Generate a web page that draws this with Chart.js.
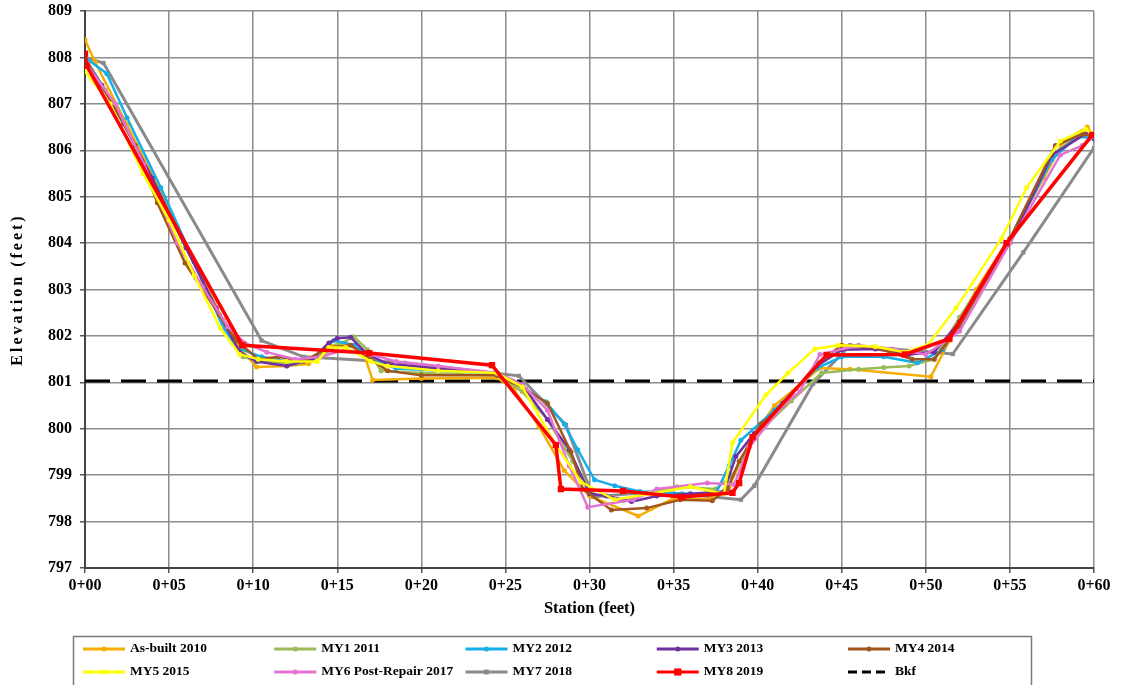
<!DOCTYPE html>
<html>
<head>
<meta charset="utf-8">
<script src="https://cdn.jsdelivr.net/npm/chart.js@4"></script>
<style>
html,body{margin:0;padding:0;background:#fff;}
#wrap{width:1123px;height:685px;position:relative;}
</style>
</head>
<body>
<div id="wrap"><canvas id="c" width="1123" height="685"></canvas></div>
<script>
// ---- Data (station in feet, elevation in feet) ----
const xTickLabels = ['0+00','0+05','0+10','0+15','0+20','0+25','0+30','0+35','0+40','0+45','0+50','0+55','0+60'];
const yMin = 797, yMax = 809;

const asBuiltSta  = [0,0.6,2.5,4.5,6.5,8.2,9.3,10.2,12,13.3,14.5,15.5,16.6,17.1,20,24.5,25.5,27,28.5,30,32.9,35,37.2,38.3,39.5,41,43.7,45.5,50.3,51.4,53,55,57,58.2,59.6,60];
const asBuiltElev = [808.38,807.9,806.55,805.1,803.6,802.35,801.7,801.33,801.35,801.4,801.78,801.85,801.6,801.05,801.08,801.1,800.85,800.05,799.1,798.55,798.12,798.5,798.48,798.75,799.7,800.5,801.31,801.28,801.12,801.9,803.0,804.1,805.4,806.2,806.5,806.3];

const my1Sta  = [0,1.2,3,5,7,8.5,9.4,10.3,12.5,14,15,16,16.8,17.6,20,24.5,26,27.5,29,30.2,32,34,35.2,37.5,38.5,40,42,43.8,46,47.5,49,50.5,52,55,57.5,59.3,60];
const my1Elev = [808.0,807.3,806.1,804.6,803.2,802.1,801.55,801.45,801.4,801.55,801.8,801.98,801.7,801.25,801.2,801.15,800.8,800.2,799.3,798.6,798.45,798.65,798.75,798.7,799.0,799.9,800.6,801.2,801.28,801.32,801.35,801.5,802.4,804.05,805.9,806.4,806.3];

const my2Sta  = [0,1.3,2.5,4.5,6.5,8.2,9,10.5,12,13.5,14.8,16,17.3,18.5,21,24.5,26,27.4,28.5,29.3,30.3,31.5,33,35.5,37.5,38.3,39,41,43.5,45,47.5,49.5,51,53,55,57.5,59,60];
const my2Elev = [808.0,807.65,806.7,805.2,803.6,802.2,801.75,801.55,801.45,801.5,801.9,801.8,801.45,801.3,801.25,801.2,800.9,800.58,800.1,799.55,798.9,798.77,798.65,798.6,798.6,799.2,799.75,800.4,801.3,801.55,801.55,801.42,801.7,802.9,804.05,805.8,806.3,806.25];

const my3Sta  = [0,1,2.3,4,6,7.8,9.2,10.2,12,13.5,14.5,15,15.8,16.8,18,21,24.5,26,27.5,28.8,30,31,32.5,34,36,38,38.7,39.8,41.5,43.5,45,47,49,50.5,52,55,57.5,59.5,60];
const my3Elev = [807.95,807.4,806.57,805.4,803.9,802.6,801.65,801.45,801.35,801.5,801.85,801.95,801.97,801.6,801.4,801.3,801.2,800.95,800.2,799.55,798.6,798.55,798.43,798.55,798.6,798.65,799.4,799.9,800.55,801.35,801.7,801.72,801.6,801.65,802.3,804.0,805.9,806.35,806.25];

const my4Sta  = [0,1.5,3,4.3,5.95,8,9,10.3,11.5,13,14.5,15.8,17,18,20,24.5,26.2,27.5,28.9,29.6,31.3,33.4,35.4,37.3,38.2,38.9,40.2,41.5,43.5,45,47,49.2,50.5,52,55,57.7,59.3,60];
const my4Elev = [807.9,807.1,806.1,804.87,803.57,802.45,801.9,801.5,801.55,801.45,801.75,801.8,801.5,801.25,801.15,801.15,800.85,800.55,799.5,798.7,798.25,798.29,798.47,798.45,798.7,799.3,800.1,800.5,801.4,801.8,801.75,801.5,801.5,802.2,804.1,806.1,806.35,806.3];

const my5Sta  = [0,1.5,3.45,5,6.5,8.04,9.2,10.3,12,13.8,14.5,15.5,17,18,21,24.5,26,28,29.5,31.5,33.6,36,38,38.5,40.5,41.8,43.4,44.8,47,48.7,50.1,51.8,54.5,56,58,59.5,60];
const my5Elev = [807.7,807.0,805.5,804.5,803.3,802.17,801.6,801.5,801.45,801.45,801.75,801.75,801.45,801.35,801.25,801.2,800.9,799.65,798.85,798.47,798.6,798.75,798.6,799.7,800.73,801.2,801.72,801.8,801.77,801.65,801.8,802.6,804.1,805.2,806.2,806.45,806.35];

const my6Sta  = [0,1.8,3.5,5.5,7,8.5,9.5,10.8,12.5,14,15.5,17,18.5,21,24.5,26,27.5,28.8,29.9,32.6,34,37,38.6,39.5,41.5,42.5,43.7,46,48,50,52,55,58,59.3,60];
const my6Elev = [807.9,807.0,805.7,804.0,803.05,802.2,801.85,801.65,801.5,801.55,801.7,801.6,801.45,801.35,801.2,800.95,800.4,799.2,798.31,798.47,798.7,798.83,798.8,799.6,800.5,800.8,801.6,801.8,801.72,801.6,802.1,804.0,805.9,806.1,806.3];

const my7Sta  = [0,1.1,10.5,13,19,25.8,28.6,30.2,34,39,39.8,43.3,45.5,51.6,55.8,60];
const my7Elev = [808.0,807.88,801.9,801.55,801.42,801.14,800.08,798.53,798.65,798.47,798.77,800.97,801.8,801.61,803.8,806.05];

const my8Sta  = [0,0.1,9.35,16.9,24.2,28.0,28.3,32,35.5,38.5,38.9,39.7,44.1,48.75,51.4,54.8,59.9];
const my8Elev = [808.08,807.82,801.8,801.63,801.37,799.65,798.7,798.66,798.53,798.62,798.83,799.82,801.59,801.6,801.94,804.0,806.33];

const bkfSta  = [0,60];
const bkfElev = [801.03,801.03];

const seriesNames = ['As-built 2010','MY1 2011','MY2 2012','MY3 2013','MY4 2014','MY5 2015','MY6 Post-Repair 2017','MY7 2018','MY8 2019','Bkf'];

function pts(xs, ys){ return xs.map((x,i)=>({x:x, y:ys[i]})); }

const styles = [
  {c:'#F5AE00', w:2.5, r:2.5, ps:'circle', order:7},
  {c:'#9BBB59', w:2.5, r:2.5, ps:'circle', order:6},
  {c:'#14AFEA', w:2.5, r:2.5, ps:'circle', order:5},
  {c:'#7030A0', w:2.5, r:2.5, ps:'circle', order:4},
  {c:'#A2561E', w:2.5, r:2.5, ps:'circle', order:3},
  {c:'#FFFF00', w:2.5, r:2.5, ps:'circle', order:1},
  {c:'#E373D3', w:2.5, r:2.5, ps:'circle', order:2},
  {c:'#8A8A8A', w:3, r:3, ps:'rect', order:8},
  {c:'#FF0000', w:3.5, r:4.5, ps:'rect', order:0},
  {c:'#000000', w:3, r:0, ps:'line', order:9, dash:[25,11]}
];
const dataArrays = [
  [asBuiltSta,asBuiltElev],[my1Sta,my1Elev],[my2Sta,my2Elev],[my3Sta,my3Elev],[my4Sta,my4Elev],
  [my5Sta,my5Elev],[my6Sta,my6Elev],[my7Sta,my7Elev],[my8Sta,my8Elev],[bkfSta,bkfElev]
];

const datasets = dataArrays.map((d,i)=>({
  label: seriesNames[i],
  data: pts(d[0], d[1]),
  borderColor: styles[i].c,
  backgroundColor: styles[i].c,
  borderWidth: styles[i].w,
  pointRadius: styles[i].r,
  pointStyle: styles[i].ps,
  pointBorderWidth: 0,
  borderDash: styles[i].dash || [],
  order: styles[i].order,
  tension: 0,
  fill: false
}));

const FONT = '"Liberation Serif", "Times New Roman", serif';

const boxLegend = {
  id: 'boxLegend',
  afterDraw(chart){
    const ctx = chart.ctx;
    ctx.save();
    // y-axis title, letter-spaced
    ctx.fillStyle = '#000';
    ctx.font = 'bold 16px ' + FONT;
    try { ctx.letterSpacing = '3px'; } catch(e) {}
    ctx.textAlign = 'center';
    ctx.textBaseline = 'middle';
    ctx.translate(18, (chart.chartArea.top + chart.chartArea.bottom)/2);
    ctx.rotate(-Math.PI/2);
    ctx.fillText('Elevation (feet)', 0, 0);
    ctx.restore();

    ctx.save();
    try { ctx.letterSpacing = '0px'; } catch(e) {}
    ctx.strokeStyle = '#7a7a7a';
    ctx.lineWidth = 1.5;
    ctx.strokeRect(73.5, 636.5, 958, 60);
    ctx.font = 'bold 13.5px ' + FONT;
    ctx.textBaseline = 'middle';
    ctx.textAlign = 'left';
    chart.data.datasets.forEach((ds,i)=>{
      const col = i % 5, row = Math.floor(i/5);
      const x = 83 + col*191.25;
      const y = row === 0 ? 649 : 672;
      const st = styles[i];
      ctx.strokeStyle = st.c;
      ctx.lineWidth = 3;
      ctx.setLineDash(st.dash ? [9,5] : []);
      ctx.beginPath(); ctx.moveTo(x, y); ctx.lineTo(x+42, y); ctx.stroke();
      ctx.setLineDash([]);
      if (st.r > 0){
        ctx.fillStyle = st.c;
        if (st.ps === 'rect'){ const s = st.r*1.6; ctx.fillRect(x+21-s/2, y-s/2, s, s); }
        else { ctx.beginPath(); ctx.arc(x+21, y, 2.5, 0, Math.PI*2); ctx.fill(); }
      }
      ctx.fillStyle = '#000';
      ctx.fillText(ds.label, x+47, y);
    });
    ctx.restore();
  }
};

new Chart(document.getElementById('c'), {
  type: 'line',
  data: { datasets },
  plugins: [boxLegend],
  options: {
    responsive: false,
    animation: false,
    layout: { padding: { top: 11, right: 29, bottom: 62, left: 0 } },
    plugins: { legend: { display: false }, tooltip: { enabled: false } },
    scales: {
      x: {
        type: 'linear', min: 0, max: 60,
        afterFit(s){ s.height = 55; },
        ticks: { stepSize: 5, color: '#000', font: { family: FONT, size: 16, weight: 'bold' },
                 maxRotation: 0, padding: 3,
                 callback: (v) => xTickLabels[Math.round(v/5)] },
        grid: { color: '#8c8c8c', lineWidth: 1.5, tickLength: 5, tickColor: '#555' },
        border: { color: '#444', width: 2 },
        title: { display: true, text: 'Station (feet)', color: '#000',
                 font: { family: FONT, size: 16.5, weight: 'bold' }, padding: { top: 4, bottom: 4 } }
      },
      y: {
        type: 'linear', min: yMin, max: yMax,
        afterFit(s){ s.width = 85; s.paddingTop = 0; s.paddingBottom = 0; },
        ticks: { stepSize: 1, color: '#000', font: { family: FONT, size: 16, weight: 'bold' }, padding: 8 },
        grid: { color: '#8c8c8c', lineWidth: 1.5, tickLength: 5, tickColor: '#555' },
        border: { color: '#444', width: 2 },
        title: { display: false }
      }
    }
  }
});
</script>
</body>
</html>
